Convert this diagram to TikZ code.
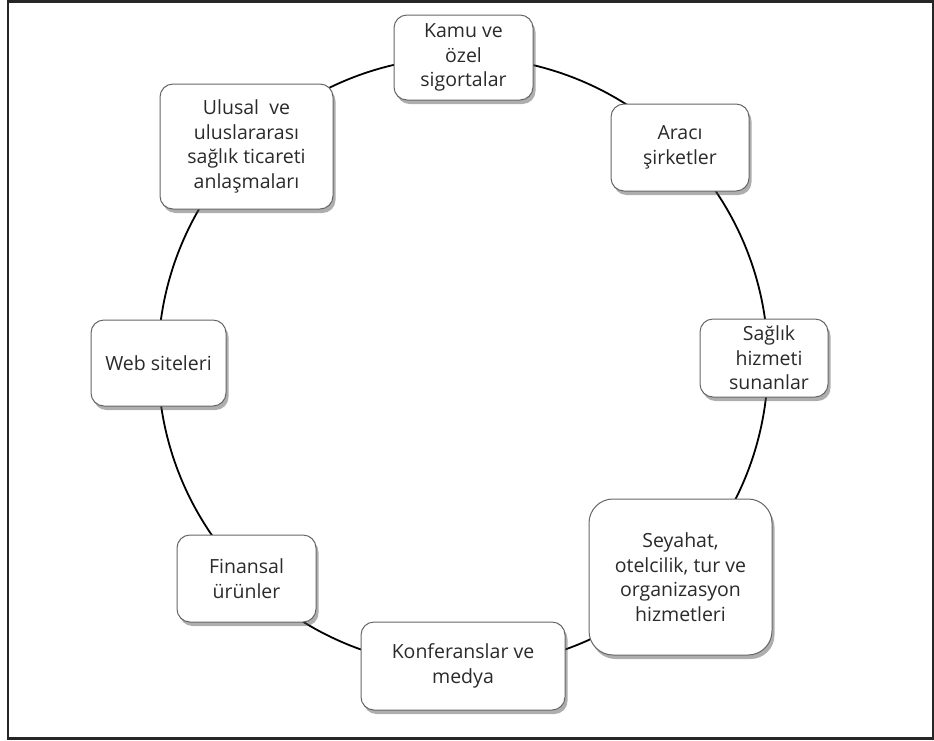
\documentclass[tikz,border=0pt]{standalone}
\usepackage{fontspec}
\setmainfont{Open Sans}
\usetikzlibrary{shadows}
\definecolor{txt}{HTML}{2A2A2A}
\tikzset{
  box/.style={draw=black!60, line width=1pt, fill=white, rounded corners=13pt,
    align=center, text=txt, inner sep=2pt,
    font=\fontsize{19.5}{24.5}\selectfont,
    drop shadow={shadow xshift=2.5pt, shadow yshift=-4pt, opacity=0.45, fill=black!70}},
  ring/.style={draw=black, line width=1.8pt},
  frame/.style={draw=black!85, line width=2.5pt}
}
\begin{document}
\begin{tikzpicture}[x=1pt,y=-1pt]
\useasboundingbox (0,0) rectangle (934,740);
\draw[frame] (8,1.5) rectangle (933,738.5);
\coordinate (c) at (463,362);
\draw[ring] (c) circle[radius=305];
\node[box, minimum width=139, minimum height=85] (kamu) at (463.5,57.5) {Kamu ve\\özel\\sigortalar};
\node[box, minimum width=173, minimum height=125] (ulusal) at (246.5,146.5) {Ulusal\ \ ve\\uluslararası\\sağlık ticareti\\anlaşmaları};
\node[box, minimum width=138, minimum height=87] (araci) at (680,147.5) {Aracı\\şirketler};
\node[box, minimum width=128, minimum height=78] (saglik) at (764,358) {\hspace*{10pt}Sağlık\\\hspace*{10pt}hizmeti\\\hspace*{10pt}sunanlar};
\node[box, minimum width=183, minimum height=156, rounded corners=24pt] (seyahat) at (680.5,577) {Seyahat,\\otelcilik, tur ve\\organizasyon\\hizmetleri};
\node[box, minimum width=204, minimum height=88] (konf) at (463,666) {Konferanslar ve\\medya};
\node[box, minimum width=139, minimum height=87] (finans) at (246.5,578.5) {Finansal\\ürünler};
\node[box, minimum width=135, minimum height=86] (web) at (158.5,363) {Web siteleri};
\end{tikzpicture}
\end{document}
